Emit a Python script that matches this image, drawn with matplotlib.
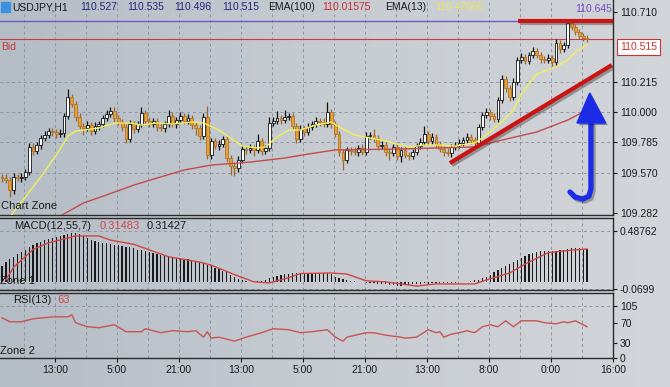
import numpy as np
import matplotlib
matplotlib.use("Agg")
import matplotlib.pyplot as plt
import matplotlib.patheffects as pe
from matplotlib.colors import LinearSegmentedColormap
from matplotlib.patches import Rectangle, Polygon

plt.rcParams['font.family'] = ['Liberation Sans', 'DejaVu Sans']

# USDJPY H1 candles (open = previous close)
first_open = 109.540
closes = [109.532, 109.518, 109.447, 109.539, 109.532, 109.539, 109.575, 109.752, 109.723, 109.766,
          109.816, 109.837, 109.865, 109.858, 109.844, 109.851, 109.972, 110.106, 110.057, 109.965,
          109.901, 109.887, 109.908, 109.865, 109.901, 109.915, 109.957, 109.986, 110.007, 109.957,
          109.929, 109.894, 109.809, 109.915, 109.879, 109.915, 109.993, 109.936, 109.915, 109.936,
          109.894, 109.887, 109.915, 109.972, 109.915, 109.943, 109.972, 109.936, 109.957, 109.908,
          109.887, 109.830, 109.965, 109.695, 109.794, 109.759, 109.773, 109.809, 109.674, 109.617,
          109.603, 109.660, 109.738, 109.731, 109.745, 109.731, 109.794, 109.723, 109.745, 109.922,
          109.936, 109.957, 109.943, 109.965, 109.972, 109.901, 109.809, 109.879, 109.858, 109.894,
          109.915, 109.936, 109.929, 109.915, 110.000, 109.915, 109.844, 109.716, 109.660, 109.731,
          109.723, 109.716, 109.745, 109.716, 109.830, 109.837, 109.816, 109.759, 109.766, 109.716,
          109.709, 109.752, 109.688, 109.731, 109.695, 109.688, 109.716, 109.759, 109.787, 109.844,
          109.794, 109.823, 109.773, 109.738, 109.716, 109.709, 109.752, 109.766, 109.780, 109.801,
          109.823, 109.801, 109.780, 109.894, 109.979, 110.000, 109.972, 109.950, 110.085, 110.234,
          110.170, 110.106, 110.213, 110.369, 110.390, 110.362, 110.404, 110.432, 110.404, 110.376,
          110.369, 110.383, 110.355, 110.489, 110.447, 110.475, 110.631, 110.603, 110.567, 110.539,
          110.525, 110.515]
# wick lengths in pips
upper_wick = [2, 3, 2, 3, 2, 3, 2, 3, 3, 2, 2, 3, 2, 2, 2, 3, 2, 6, 2, 2,
              3, 2, 3, 2, 3, 2, 2, 3, 3, 3, 2, 2, 2, 3, 2, 2, 4, 2, 3, 2,
              2, 3, 2, 4, 3, 2, 3, 2, 3, 2, 2, 2, 3, 8, 2, 2, 3, 2, 2, 2,
              2, 3, 3, 2, 3, 2, 5, 2, 2, 4, 3, 5, 2, 5, 2, 2, 2, 3, 2, 3,
              2, 3, 2, 3, 7, 2, 2, 2, 2, 2, 2, 3, 2, 3, 3, 2, 4, 2, 3, 2,
              2, 2, 3, 2, 3, 2, 2, 2, 3, 6, 2, 3, 2, 2, 2, 3, 2, 2, 3, 2,
              3, 2, 2, 2, 2, 3, 2, 2, 2, 3, 2, 2, 3, 2, 3, 2, 2, 3, 2, 2,
              2, 3, 2, 3, 2, 2, 3, 2, 2, 2, 2, 2]
lower_wick = [3, 2, 5, 3, 2, 3, 2, 2, 3, 2, 3, 2, 2, 3, 3, 2, 3, 2, 2, 3,
              2, 5, 2, 3, 2, 3, 2, 2, 2, 3, 2, 3, 3, 2, 3, 2, 2, 3, 2, 2,
              3, 2, 3, 2, 2, 3, 2, 2, 2, 3, 5, 3, 2, 3, 3, 2, 3, 2, 3, 6,
              6, 3, 2, 3, 2, 4, 2, 3, 2, 2, 2, 2, 3, 2, 2, 2, 3, 2, 3, 2,
              2, 2, 3, 2, 2, 3, 2, 3, 7, 2, 3, 2, 3, 2, 2, 2, 3, 3, 2, 3,
              5, 2, 3, 4, 2, 3, 2, 2, 2, 2, 3, 2, 3, 2, 3, 2, 3, 2, 2, 2,
              2, 3, 2, 3, 2, 2, 3, 2, 2, 2, 3, 3, 2, 2, 2, 2, 2, 2, 2, 3,
              2, 2, 3, 2, 3, 2, 2, 2, 2, 2, 2, 2]

ema13_x = [2, 3, 6, 8, 10, 12, 14, 15, 16, 17, 19, 21, 25, 29, 33, 36, 40, 44, 49, 52,
           56, 59, 62, 66, 68, 71, 74, 77, 81, 85, 88, 91, 95, 98, 101, 105, 109, 113, 117, 120,
           122, 125, 128, 130, 132, 134, 136, 138, 140, 143, 146, 148, 150, 151]
ema13_y = [109.248, 109.291, 109.397, 109.468, 109.539, 109.617, 109.695, 109.738, 109.780, 109.830,
           109.865, 109.872, 109.887, 109.922, 109.922, 109.908, 109.922, 109.915, 109.929, 109.922,
           109.872, 109.816, 109.759, 109.745, 109.752, 109.823, 109.872, 109.872, 109.908, 109.929,
           109.879, 109.837, 109.816, 109.801, 109.780, 109.752, 109.766, 109.766, 109.759, 109.773,
           109.780, 109.837, 109.908, 109.957, 110.014, 110.121, 110.199, 110.269, 110.291, 110.319,
           110.369, 110.425, 110.461, 110.477]
ema100_x = [15, 21, 27, 34, 40, 47, 54, 64, 73, 79, 86, 103, 112, 122, 129, 138, 146, 151]
ema100_y = [109.262, 109.355, 109.412, 109.482, 109.532, 109.589, 109.624, 109.645, 109.674, 109.702,
            109.731, 109.738, 109.745, 109.752, 109.801, 109.858, 109.943, 110.014]

macd_hist = [0.15, 0.19, 0.22, 0.24, 0.27, 0.29, 0.31, 0.33, 0.35, 0.37,
             0.38, 0.40, 0.41, 0.42, 0.43, 0.44, 0.45, 0.46, 0.47, 0.47,
             0.46, 0.44, 0.42, 0.40, 0.39, 0.38, 0.37, 0.37, 0.36, 0.35,
             0.35, 0.34, 0.33, 0.33, 0.32, 0.31, 0.31, 0.30, 0.29, 0.28,
             0.27, 0.26, 0.25, 0.25, 0.24, 0.23, 0.23, 0.22, 0.22, 0.21,
             0.20, 0.19, 0.18, 0.16, 0.15, 0.13, 0.12, 0.10, 0.09, 0.07,
             0.05, 0.03, 0.02, 0.01, 0.00, -0.005, 0.005, 0.01, 0.02, 0.04,
             0.05, 0.06, 0.07, 0.075, 0.08, 0.085, 0.085, 0.085, 0.085, 0.085,
             0.085, 0.085, 0.085, 0.085, 0.085, 0.075, 0.05, 0.035, 0.025, 0.015,
             0.01, 0.005, 0.0, -0.005, -0.01, -0.01, -0.015, -0.02, -0.02, -0.025,
             -0.03, -0.03, -0.035, -0.035, -0.03, -0.03, -0.025, -0.02, -0.02, -0.015,
             -0.02, -0.015, -0.015, -0.015, -0.015, -0.01, -0.01, -0.01, -0.005, -0.005,
             0.0, 0.005, 0.015, 0.02, 0.035, 0.05, 0.07, 0.09, 0.11, 0.13,
             0.15, 0.17, 0.19, 0.21, 0.23, 0.25, 0.27, 0.28, 0.29, 0.295,
             0.30, 0.30, 0.30, 0.30, 0.305, 0.31, 0.315, 0.32, 0.32, 0.32,
             0.315, 0.315]
signal_x = [1, 3, 8, 12, 17, 19, 25, 28, 34, 43, 51, 54, 60, 65, 69, 74, 77, 85, 89, 94,
            99, 107, 112, 122, 126, 131, 136, 141, 146, 151]
signal_y = [0.02, 0.14, 0.31, 0.375, 0.42, 0.44, 0.44, 0.40, 0.36, 0.24, 0.19, 0.16, 0.07, 0.0, -0.01,
            0.04, 0.08, 0.085, 0.075, 0.01, 0.0, -0.04, -0.02, -0.02, 0.03, 0.085, 0.19, 0.28, 0.30, 0.315]

rsi_x = [0, 2, 5, 8, 13, 17, 18, 19, 22, 25, 29, 32, 36, 37, 41, 44, 48, 50, 52, 53,
         54, 56, 60, 63, 67, 70, 74, 77, 80, 84, 86, 88, 89, 94, 96, 99, 103, 104, 107, 110,
         112, 113, 114, 116, 118, 120, 122, 124, 126, 128, 130, 132, 134, 138, 140, 143, 145, 146, 148, 150,
         151]
rsi_y = [81, 73, 73, 79, 83, 83, 87, 71, 63, 61, 67, 53, 53, 59, 51, 55, 53, 55, 42, 53,
         40, 42, 34, 42, 51, 59, 57, 51, 53, 57, 42, 34, 42, 51, 51, 46, 42, 40, 42, 57,
         51, 53, 42, 48, 51, 55, 51, 63, 67, 63, 75, 63, 75, 75, 71, 69, 73, 71, 75, 67,
         63]

time_labels = ['13:00', '5:00', '21:00', '13:00', '5:00', '21:00', '13:00', '8:00', '0:00', '16:00']
price_ticks = [110.710, 110.215, 110.000, 109.785, 109.570, 109.282]
price_grid = [110.215, 110.000, 109.785, 109.570]
macd_ticks = [0.48762, -0.0699]
rsi_ticks = [105, 70, 30, 0]

bid = 110.515
day_high = 110.647
resist_x = [133.2, 158.2]
trend_x = [115.6, 157.4]
trend_y = [109.638, 110.333]
arrow_x = [146.6, 147.9, 149.9, 151.5, 152.0, 152.0]
arrow_y = [109.433, 109.397, 109.383, 109.404, 109.454, 109.915]
head_x = [148.4, 155.8, 151.7]
head_y = [109.922, 109.922, 110.135]

W, H = 670, 387
def fx(x):
    return x / W
def fy(y):
    return 1 - y / H

fig = plt.figure(figsize=(W / 100, H / 100), dpi=100)

# grey gradient background
bg = fig.add_axes([0, 0, 1, 1], zorder=-10)
cmap_bg = LinearSegmentedColormap.from_list('bg', ['#b4bcc5', '#c7ccd2', '#d2d5d9'])
bg.imshow(np.linspace(0, 1, 256).reshape(1, -1), aspect='auto', cmap=cmap_bg, extent=[0, 1, 0, 1])
bg.axis('off')

right = fx(613)
ax = fig.add_axes([0, fy(215), right, 215 / H])
ax_m = fig.add_axes([0, fy(290), right, (290 - 218) / H])
ax_r = fig.add_axes([0, fy(358), right, (358 - 293) / H])

xlim = (-0.52, 157.7)
grid_kw = dict(color='#8a95a2', lw=0.7, ls=(0, (3, 3)), zorder=1)
vgrid = [13.68 + 8 * k for k in range(-1, 18)]
for a in (ax, ax_m, ax_r):
    a.set_facecolor('none')
    a.set_xlim(*xlim)
    for gx in vgrid:
        a.axvline(gx, **grid_kw)
    a.spines['left'].set_visible(False)
    for s in ('right', 'top', 'bottom'):
        a.spines[s].set_color('#2a2a2a')
        a.spines[s].set_linewidth(1)
    a.yaxis.tick_right()
    a.tick_params(axis='y', direction='out', length=3, width=0.8, colors='#1a1a1a',
                  labelsize=7.5, pad=2)
ax.spines['top'].set_visible(False)

# main price panel
ax.set_ylim(109.270, 110.794)
for gy in price_grid:
    ax.axhline(gy, **grid_kw)
ax.set_yticks(price_ticks)
ax.set_yticklabels([f'{v:.3f}' for v in price_ticks])
ax.set_xticks([])

idx = np.arange(len(closes))
c = np.array(closes)
o = np.concatenate([[first_open], c[:-1]])
hi = np.maximum(o, c) + np.array(upper_wick) * 0.01
lo = np.minimum(o, c) - np.array(lower_wick) * 0.01
bull = c >= o
body_h = np.maximum(np.abs(c - o), 0.003)
body_b = np.minimum(o, c)
ax.vlines(idx[bull], lo[bull], hi[bull], color='#111111', lw=0.9, zorder=3)
ax.vlines(idx[~bull], lo[~bull], hi[~bull], color='#9a682c', lw=0.9, zorder=3)
ax.bar(idx[bull], body_h[bull], bottom=body_b[bull], width=0.72, color='white',
       edgecolor='#111111', lw=0.6, zorder=4)
ax.bar(idx[~bull], body_h[~bull], bottom=body_b[~bull], width=0.72, color='#e6a03a',
       edgecolor='#b57422', lw=0.6, zorder=4)

ax.plot(ema100_x, ema100_y, color='#c24a4a', lw=1, zorder=5)
ax.plot(ema13_x, ema13_y, color='#f2f05a', lw=1, zorder=5)

ax.axhline(day_high, color='#7657c8', lw=1, zorder=2)
ax.axhline(bid, color='#c83c3c', lw=0.8, zorder=2)

shadow = [pe.SimpleLineShadow(offset=(1.5, -1.5), shadow_color='#444444', alpha=0.45), pe.Normal()]
ax.plot(resist_x, [day_high, day_high], color='#cc1414', lw=3, solid_capstyle='butt',
        path_effects=shadow, zorder=8)
ax.plot(trend_x, trend_y, color='#cc1414', lw=3, solid_capstyle='butt',
        path_effects=shadow, zorder=8)
ax.plot(arrow_x, arrow_y, color='#1c2ce6', lw=3.8, solid_capstyle='round',
        solid_joinstyle='round', path_effects=shadow, zorder=9)
ax.add_patch(Polygon(list(zip(head_x, head_y)), closed=True, color='#1c2ce6', zorder=9,
                     path_effects=[pe.SimplePatchShadow(offset=(1.5, -1.5), alpha=0.4), pe.Normal()]))

# MACD panel
ax_m.set_ylim(-0.078, 0.612)
ax_m.axhline(macd_ticks[0], **grid_kw)
ax_m.axhline(macd_ticks[1], **grid_kw)
ax_m.bar(idx, macd_hist, width=0.32, color='#1a1a1a', zorder=3)
ax_m.plot(signal_x, signal_y, color='#d04444', lw=1, zorder=4)
ax_m.set_yticks(macd_ticks)
ax_m.set_yticklabels(['0.48762', '-0.0699'])
ax_m.set_xticks([])

# RSI panel
ax_r.set_ylim(0, 131)
ax_r.axhline(105, **grid_kw)
ax_r.plot(rsi_x, rsi_y, color='#c85454', lw=1, zorder=4)
ax_r.set_yticks(rsi_ticks)
ax_r.set_yticklabels([str(v) for v in rsi_ticks])
ax_r.set_xticks([13.68 + 16 * k for k in range(len(time_labels))])
ax_r.set_xticklabels(time_labels)
ax_r.tick_params(axis='x', direction='out', length=3, width=0.8, colors='#1a1a1a',
                 labelsize=7.5, pad=2)

# texts
dark = '#1a1a1a'
fig.patches.append(Rectangle((fx(1), fy(12)), fx(9), 10 / H, transform=fig.transFigure,
                             color='#3d8fe0', zorder=5))
fig.text(fx(5.5), fy(7), '↓', color='white', fontsize=6, ha='center', va='center',
         family='DejaVu Sans', weight='bold')
header = [(12, 'USDJPY,H1', dark), (80, '110.527', '#26267a'), (127, '110.535', '#26267a'),
          (174, '110.496', '#26267a'), (222, '110.515', '#26267a'), (268, 'EMA(100)', dark),
          (322, '110.01575', '#c83232'), (385, 'EMA(13)', dark), (435, '110.47666', '#e8e85a')]
for x, t, col in header:
    fig.text(fx(x), fy(7), t, color=col, fontsize=7.5, va='center')
fig.text(fx(575), fy(9), '110.645', color='#6a50c0', fontsize=7.5, va='center')
fig.text(fx(1), fy(47), 'Bid', color='#c83c3c', fontsize=7.5, va='center')
fig.text(fx(620), fy(47), '110.515', color='#c83232', fontsize=7.5, va='center',
         bbox=dict(boxstyle='square,pad=0.25', fc='white', ec='#c83232', lw=0.8))
fig.text(fx(1), fy(206), 'Chart Zone', color=dark, fontsize=8, va='center')
fig.text(fx(14), fy(226), 'MACD(12,55,7)', color=dark, fontsize=8, va='center')
fig.text(fx(100), fy(226), '0.31483', color='#d04848', fontsize=8, va='center')
fig.text(fx(147), fy(226), '0.31427', color=dark, fontsize=8, va='center')
fig.text(fx(0), fy(281), 'Zone 1', color=dark, fontsize=8, va='center')
fig.text(fx(13), fy(300), 'RSI(13)', color=dark, fontsize=8, va='center')
fig.text(fx(57), fy(300), '63', color='#d04848', fontsize=8, va='center')
fig.text(fx(0), fy(351), 'Zone 2', color=dark, fontsize=8, va='center')

fig.savefig('out.png', dpi=100)
